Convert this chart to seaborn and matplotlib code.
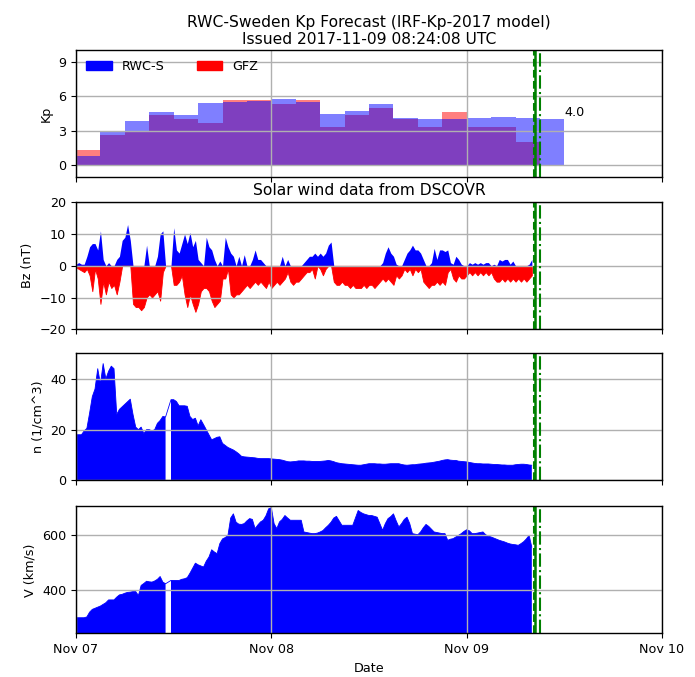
import numpy as np
import pandas as pd
import matplotlib
matplotlib.use("Agg")
import matplotlib.pyplot as plt
import matplotlib.dates as mdates
from matplotlib.patches import Patch
import seaborn as sns

# ---------------------------------------------------------------------------
# Datos
# ---------------------------------------------------------------------------
# Kp en intervalos de 3 horas desde 2017-11-07 00:00
kp_rwc = [0.8, 2.97, 3.84, 4.59, 4.33, 5.41, 5.52, 5.58, 5.78, 5.5,
          4.45, 4.71, 5.29, 4.13, 4.0, 4.0, 4.13, 4.19, 4.07, 4.0]
kp_gfz = [1.33, 2.67, 3.0, 4.33, 4.0, 3.67, 5.67, 5.67, 5.33, 5.67,
          3.33, 4.33, 5.0, 4.0, 3.33, 4.67, 3.33, 3.33, 2.0]

# Viento solar cada 20 minutos desde 2017-11-07 00:00 (3 valores por hora)
bz_pos = [0.5, 1, 0.5,  0.5, 3, 6,  7, 7, 5,  11, 2, 0,  1, 0, 0,
          2, 3, 8,  9, 13, 8,  0, 0, 0,  0, 0, 6.5,  0, 0, 0,
          3, 10, 11,  0, 0, 0,  12, 5, 4,  7, 10, 7,  10.5, 6, 8,
          2, 1, 0,  9, 6, 5,  2, 0, 1.5,  0, 9, 6,  4, 3, 0,
          3, 0, 3.5,  0, 0, 2,  5, 2, 2,  1, 0, 0,  0, 0, 0,
          0, 3, 0,  2, 0, 0,  0, 0, 0,  1, 2, 3,  3, 4, 3,
          4, 3, 4,  6.5, 7.5, 0,  0, 0, 0,  0, 0, 0,  0, 0, 0,
          0, 0, 0,  0, 0, 0,  0, 0, 1,  4, 6, 4,  3, 0.5, 0,
          0, 2, 4,  5, 6.5, 5,  5, 4, 2,  0, 0, 1,  5.5, 2, 5,
          5, 4.5, 5,  1, 0.5, 3,  2, 0.5, 0,  0, 1, 0.5,  1, 0.5, 1,
          0.5, 1, 1,  0, 0.5, 0,  2, 1.5, 2,  2, 0.5, 1.5,  0, 0, 0,
          0, 0, 0.5,  2]
bz_neg = [-0.5, -1, -1.5,  -2, -1, -3,  -8, -1, -4,  -12, -5, -9,  -5, -7, -6,
          -9, -5, 0,  0, 0, 0,  -12, -13, -13,  -14, -13, -10,  -9, -10, -9,
          -8, -11, -2,  0, 0, 0,  -6, -6, -5,  -3, -9, -13,  -9, -12, -14.5,
          -12, -8, -7,  -7, -8, -11,  -13, -12, -11,  -4, -4, -1,  -9, -10, -9,
          -9, -8, -7,  -6, -7, -6,  -5, -6, -5,  -6, -7, -5,  -7, -6, -5,
          -6, -5, -4,  -2, -5, -6,  -5, -5, -4,  -3, -2, -2,  -1, -4, 0,
          -1, -3, -1,  0, 0, -5,  -6, -6, -5,  -6, -6, -7,  -6, -7, -7,
          -7, -6, -7,  -6, -6, -7,  -6, -5, -4,  -5, -4, -5,  -6, -3, -4,
          -3, -1, -2,  -1, -3, -1,  -2, -1, -5,  -6, -7, -6,  -6, -5, -6,
          -5, -6, -2,  -1, -4, -5,  -3, -4, -4,  -3, -2, -3,  -2, -3, -2,
          -3, -2, -3,  -2, -4, -5,  -5, -4, -5,  -4, -5, -4,  -5, -4, -5,
          -4, -5, -4,  -3]
dens = [18, 18, 18,  19.5, 20.5, 26.5,  33, 36, 44,  38, 46, 40,  43, 45, 44,
        26, 28, 29,  30, 31, 32,  26, 21, 20,  21, 18.5, 20,  20, 19.5, 20,
        22.5, 23.6, 25.2,  25, np.nan, 31.8,  31.8, 31.1, 29.4,  29.4, 29.4, 29.2,
        25.2, 24, 24.5,  21.5, 23.9, 22,  20, 18, 16,  16.5, 17, 17.2,
        14.6, 13.8, 13,  12.5, 12, 11.3,  10.5, 9.5, 9.3,  9.2, 9.1, 9,
        8.9, 8.7, 8.6,  8.6, 8.6, 8.6,  8.5, 8.4, 8.3,  8.2, 8.0, 7.7,
        7.4, 7.3, 7.4,  7.5, 7.7, 7.7,  7.7, 7.6, 7.6,  7.5, 7.5, 7.5,
        7.5, 7.6, 7.7,  7.9, 7.7, 7.4,  7.0, 6.8, 6.6,  6.5, 6.4, 6.3,
        6.2, 6.1, 6.0,  6.0, 6.2, 6.4,  6.6, 6.6, 6.6,  6.5, 6.5, 6.4,
        6.4, 6.5, 6.6,  6.6, 6.6, 6.6,  6.3, 6.1, 6.0,  6.1, 6.2, 6.2,
        6.4, 6.5, 6.6,  6.8, 6.9, 7.0,  7.2, 7.4, 7.6,  7.9, 8.1, 8.2,
        8.0, 7.9, 7.9,  7.6, 7.5, 7.4,  7.3, 7.1, 6.9,  6.7, 6.6, 6.6,
        6.5, 6.5, 6.5,  6.4, 6.3, 6.3,  6.2, 6.1, 6.1,  6.0, 6.0, 6.0,
        6.2, 6.3, 6.4,  6.4, 6.3, 6.1,  6.0]
vel = [302, 302, 302,  302, 305, 322,  332, 336, 340,  344, 350, 356,  366, 366, 366,
       376, 384, 386,  390, 393, 394,  396, 396, 382,  418, 425, 433,  431, 430, 434,
       440, 450, 430,  424, np.nan, 436,  436, 436, 436,  440, 442, 446,  462, 480, 498,
       492, 488, 484,  505, 520, 546,  538, 532, 568,  585, 590, 598,  660, 675, 645,
       638, 637, 640,  650, 658, 655,  622, 635, 646,  652, 668, 693,  697, 640, 622,
       646, 655, 669,  660, 652, 652,  652, 652, 652,  610, 608, 606,  604, 604, 606,
       610, 615, 625,  634, 645, 660,  666, 650, 634,  634, 634, 634,  634, 660, 687,
       680, 675, 672,  669, 669, 666,  663, 640, 616,  640, 658, 665,  675, 650, 628,
       640, 655, 663,  640, 604, 602,  600, 610, 625,  637, 630, 620,  610, 608, 606,
       604, 604, 580,  584, 586, 592,  598, 604, 612,  618, 614, 604,  604, 606, 608,
       610, 600, 595,  592, 588, 584,  580, 577, 574,  570, 567, 565,  564, 562, 568,
       575, 585, 598,  555]

issued = pd.Timestamp("2017-11-09 08:24:08")
last_data = pd.Timestamp("2017-11-09 08:13")
next_bin = pd.Timestamp("2017-11-09 09:00")

# ---------------------------------------------------------------------------
# Configuracion general
# ---------------------------------------------------------------------------
sns.set_style("ticks")
plt.rcParams.update({
    "font.family": ["DejaVu Sans"],
    "axes.edgecolor": "black",
    "axes.linewidth": 1.0,
    "xtick.labelsize": 9.2,
    "ytick.labelsize": 9.2,
    "axes.labelsize": 9.2,
    "xtick.major.size": 3.5,
    "ytick.major.size": 3.5,
    "xtick.color": "black",
    "ytick.color": "black",
    "text.color": "black",
    "axes.labelcolor": "black",
})


def main():
    kp_edges = pd.date_range("2017-11-07", periods=len(kp_rwc) + 1, freq="3h")
    edges_num = mdates.date2num(kp_edges)
    mids_num = edges_num[:-1] + 1.5 / 24

    df_rwc = pd.DataFrame({"t": mids_num, "kp": kp_rwc})
    df_gfz = pd.DataFrame({"t": mids_num[:len(kp_gfz)], "kp": kp_gfz})

    sw_time = pd.date_range("2017-11-07", periods=len(bz_pos), freq="20min")
    t = mdates.date2num(sw_time)

    fig = plt.figure(figsize=(6.95, 6.77), dpi=100)
    left, width, height = 0.1094, 0.8432, 0.1876
    ax1 = fig.add_axes([left, 0.7386, width, height])
    ax2 = fig.add_axes([left, 0.5136, width, height], sharex=ax1)
    ax3 = fig.add_axes([left, 0.2903, width, height], sharex=ax1)
    ax4 = fig.add_axes([left, 0.0645, width, height], sharex=ax1)

    # --- Kp ----------------------------------------------------------------
    sns.histplot(data=df_gfz, x="t", weights="kp", bins=list(edges_num[:len(kp_gfz) + 1]),
                 color="red", alpha=0.5, linewidth=0, ax=ax1)
    sns.histplot(data=df_rwc, x="t", weights="kp", bins=list(edges_num),
                 color="blue", alpha=0.5, linewidth=0, ax=ax1)
    ax1.text(edges_num[-1], kp_rwc[-1], f"{kp_rwc[-1]:.1f}", fontsize=9.2,
             ha="left", va="bottom")
    ax1.set_ylim(-1, 10)
    ax1.set_yticks([0, 3, 6, 9])
    ax1.set_ylabel("Kp")
    ax1.legend(handles=[Patch(color="blue", label="RWC-S"), Patch(color="red", label="GFZ")],
               loc="upper left", ncol=2, frameon=False, fontsize=9.2,
               columnspacing=2.5, borderaxespad=0.4)
    ax1.set_title("RWC-Sweden Kp Forecast (IRF-Kp-2017 model)\nIssued "
                  + issued.strftime("%Y-%m-%d %H:%M:%S") + " UTC", fontsize=11.2, pad=4)

    # --- Bz ----------------------------------------------------------------
    ax2.fill_between(t, 0, bz_pos, color="blue", linewidth=0)
    ax2.fill_between(t, 0, bz_neg, color="red", linewidth=0.6)
    ax2.set_ylim(-20, 20)
    ax2.set_yticks([-20, -10, 0, 10, 20])
    ax2.set_ylabel("Bz (nT)")
    ax2.set_title("Solar wind data from DSCOVR", fontsize=11.2, pad=5)

    # --- Densidad ----------------------------------------------------------
    ax3.fill_between(t, 0, dens, color="blue", linewidth=0)
    sns.lineplot(x=t, y=dens, color="blue", linewidth=0.6, ax=ax3)
    ax3.set_ylim(0, 50)
    ax3.set_yticks([0, 20, 40])
    ax3.set_ylabel("n (1/cm^3)")

    # --- Velocidad ---------------------------------------------------------
    ax4.fill_between(t, 0, vel, color="blue", linewidth=0)
    sns.lineplot(x=t, y=vel, color="blue", linewidth=0.6, ax=ax4)
    ax4.set_ylim(246, 702)
    ax4.set_yticks([400, 600])
    ax4.set_ylabel("V (km/s)")

    for ax in (ax1, ax2, ax3, ax4):
        # la rejilla se dibuja por encima de los datos, como en el original
        ax.set_axisbelow(False)
        ax.grid(True, color="#b0b0b0", linewidth=1.0)
        ax.axvline(mdates.date2num(last_data), color="green", linestyle="--", linewidth=1.5, zorder=5)
        ax.axvline(mdates.date2num(issued), color="green", linestyle="-", linewidth=1.8, zorder=5)
        ax.axvline(mdates.date2num(next_bin), color="green", linestyle="-.", linewidth=1.5, zorder=5)
        for side in ("top", "right", "left", "bottom"):
            ax.spines[side].set_visible(True)
            ax.spines[side].set_zorder(6)
        if ax is not ax4:
            ax.tick_params(labelbottom=False)
        ax.set_xlabel("")
    ax4.set_xlabel("Date")

    ax1.set_xlim(mdates.date2num(pd.Timestamp("2017-11-07")),
                 mdates.date2num(pd.Timestamp("2017-11-10")))
    ax4.xaxis.set_major_locator(mdates.DayLocator())
    ax4.xaxis.set_major_formatter(mdates.DateFormatter("%b %d"))

    fig.savefig("out.png", dpi=100)
    plt.close(fig)


if __name__ == "__main__":
    main()
